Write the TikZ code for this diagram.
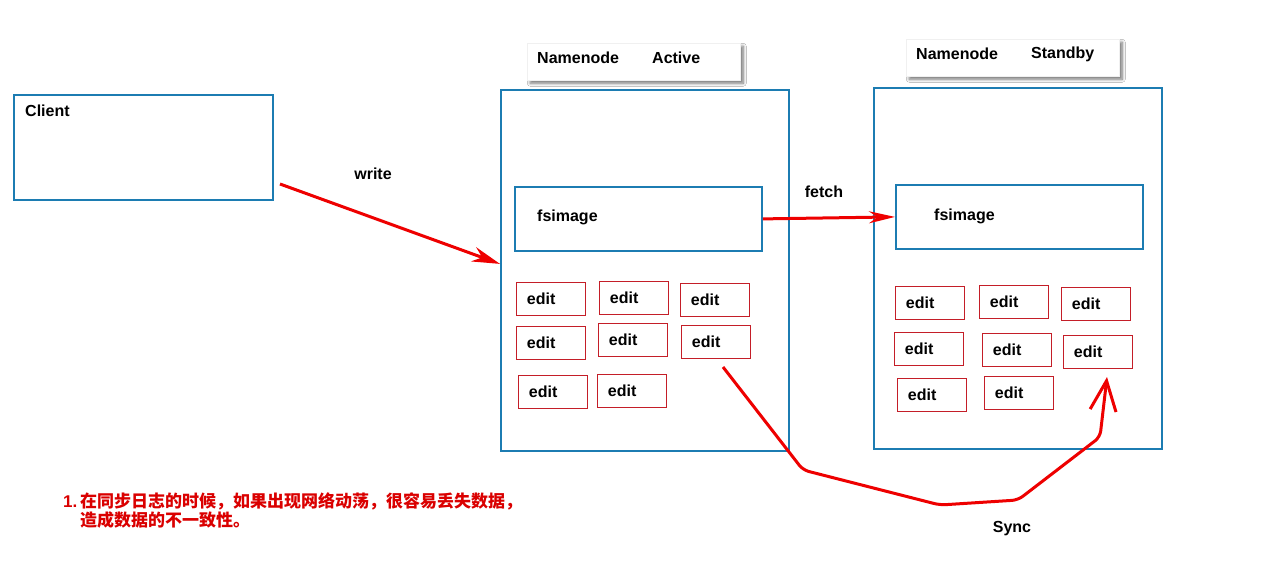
\documentclass[tikz,border=0pt]{standalone}
\usepackage{fontspec}
\setmainfont{Liberation Sans}
\newfontfamily\cjk{Noto Sans CJK SC}
\usetikzlibrary{shadows.blur,arrows.meta}
\definecolor{boxblue}{RGB}{28,124,178}
\definecolor{editred}{RGB}{196,30,40}
\definecolor{arrred}{RGB}{238,0,0}
\definecolor{noteRed}{RGB}{218,0,0}
\begin{document}
\begin{tikzpicture}[x=1pt,y=-1pt,
  font=\fontsize{16}{19}\selectfont\bfseries,
  bluebox/.style={draw=boxblue,line width=1.8pt,anchor=north west,inner sep=0pt},
  titlebox/.style={fill=white,draw=black!6,line width=0.5pt,anchor=north west,inner sep=0pt,minimum width=213pt,minimum height=37pt,
     blur shadow={shadow xshift=3pt,shadow yshift=-3pt,shadow blur steps=6,shadow blur radius=3pt,shadow opacity=55}},
  editbox/.style={draw=editred,line width=0.9pt,anchor=north west,minimum height=33pt,
     text width=48pt,inner xsep=10.5pt,inner ysep=0pt},
  txt/.style={anchor=west,inner sep=0pt},
  arr/.style={draw=arrred,line width=3pt,-{Stealth[length=28pt,width=15pt]}},
]
\useasboundingbox (0,0) rectangle (1286,563);
\fill[white] (0,0) rectangle (1286,563);

% client
\node[bluebox,minimum width=259pt,minimum height=105pt] (client) at (13,94) {};
\node[txt] (clientT) at (25,111) {Client};

% active namenode
\node[titlebox] (titleA) at (527,43) {};
\node[txt] (tA1) at (537,58) {Namenode};
\node[txt] (tA2) at (652,58) {Active};
\node[bluebox,minimum width=288pt,minimum height=361pt] (active) at (500,89) {};
\node[bluebox,minimum width=247pt,minimum height=64pt] (fsA) at (514,186) {};
\node[txt] (fsAT) at (537,217) {fsimage};

\node[editbox] (a11) at (516,282) {edit};
\node[editbox] (a12) at (599,281) {edit};
\node[editbox] (a13) at (680,283) {edit};
\node[editbox] (a21) at (516,326) {edit};
\node[editbox] (a22) at (598,323) {edit};
\node[editbox] (a23) at (681,325) {edit};
\node[editbox] (a31) at (518,375) {edit};
\node[editbox] (a32) at (597,374) {edit};

% standby namenode
\node[titlebox] (titleS) at (906,39) {};
\node[txt] (tS1) at (916,54) {Namenode};
\node[txt] (tS2) at (1031,54) {Standby};
\node[bluebox,minimum width=288pt,minimum height=361pt] (standby) at (873,87) {};
\node[bluebox,minimum width=247pt,minimum height=64pt] (fsS) at (895,184) {};
\node[txt] (fsST) at (934,216) {fsimage};

\node[editbox] (s11) at (895,286) {edit};
\node[editbox] (s12) at (979,285) {edit};
\node[editbox] (s13) at (1061,287) {edit};
\node[editbox] (s21) at (894,332) {edit};
\node[editbox] (s22) at (982,333) {edit};
\node[editbox] (s23) at (1063,335) {edit};
\node[editbox] (s31) at (897,378) {edit};
\node[editbox] (s32) at (984,376) {edit};

% labels
\node (writeL) at (373,174) {write};
\node (fetchL) at (824,192) {fetch};
\node (syncL) at (1012,529) {Sync};

% connectors
\coordinate (w0) at (280,184);
\draw[arr] (w0) -- ([yshift=6.5pt]active.west);
\draw[arr,-{Stealth[length=26pt,width=12pt]}] (fsA.east) -- (fsS.west);
\coordinate (y0) at (723,367);
\coordinate (y1) at (1107,377);
\draw[draw=arrred,line width=3pt,rounded corners=6pt,
      -{Straight Barb[length=30pt,width=26pt,line width=3pt]}]
  (y0) -- (803,470) -- (940,505) -- (1018,500) -- (1100,437) -- (y1);

% note
\node[txt,text=noteRed,anchor=north west,align=left,font=\fontsize{17}{20}\selectfont\bfseries] (note) at (63,493)
  {1.\,{\cjk 在同步日志的时候，如果出现网络动荡，很容易丢失数据，}\\[-1.5pt]
   \hspace*{17pt}{\cjk 造成数据的不一致性。}};
\end{tikzpicture}
\end{document}
